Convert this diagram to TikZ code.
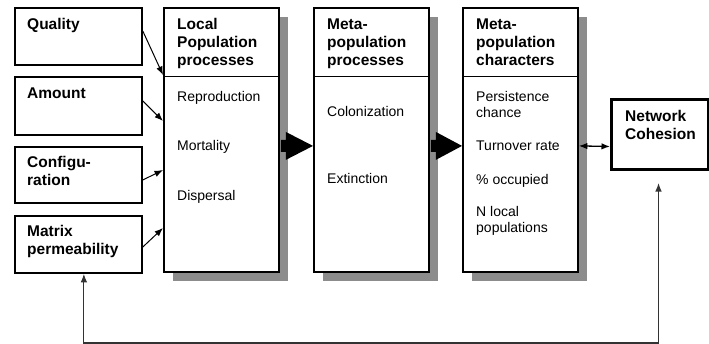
\documentclass[tikz,border=0pt]{standalone}
\usepackage{fontspec}
\setmainfont{Liberation Sans}
\usetikzlibrary{calc,arrows.meta}
\newcommand\mystack[1]{\begin{tabular}[t]{@{}l@{}}#1\end{tabular}}
\definecolor{shadowc}{HTML}{8C8C8C}
\begin{document}
\begin{tikzpicture}[x=1pt,y=-1pt,
  box/.style={draw=black,line width=1.8pt,fill=white,inner sep=0pt,anchor=north west},
  thickbox/.style={draw=black,line width=3pt,fill=white,inner sep=0pt,anchor=north west},
  title/.style={font=\fontsize{15.5}{18}\selectfont\bfseries,anchor=base west,inner sep=0pt},
  item/.style={font=\fontsize{14}{16}\selectfont,anchor=base west,inner sep=0pt},
  tip/.tip={Latex[length=8.5pt,width=6.5pt]},
  arr/.style={line width=1pt,-tip},
  dblarr/.style={line width=1.3pt,tip-tip},
  fbarr/.style={line width=1.1pt,color=black!80,tip-tip},
  bigarr/.style={fill=black}]
\useasboundingbox (0,0) rectangle (709,343);
% shadows
\fill[shadowc] (173,17) rectangle (288,281);
\fill[shadowc] (323,17) rectangle (438,281);
\fill[shadowc] (472,17) rectangle (587,281);
% left boxes
\node[box,minimum width=127pt,minimum height=57pt] (q) at (14,7) {};
\node[box,minimum width=127pt,minimum height=58pt] (a) at (14,76) {};
\node[box,minimum width=127pt,minimum height=56pt] (c) at (14,146) {};
\node[box,minimum width=127pt,minimum height=57pt] (m) at (14,215) {};
% process boxes
\node[box,minimum width=115pt,minimum height=264pt] (lp) at (163,7) {};
\node[box,minimum width=115pt,minimum height=264pt] (mp) at (313,7) {};
\node[box,minimum width=115pt,minimum height=264pt] (mc) at (462,7) {};
\draw[line width=0.8pt] ($(lp.north west)+(0,69)$) -- ($(lp.north east)+(0,69)$);
\draw[line width=0.8pt] ($(mp.north west)+(0,69)$) -- ($(mp.north east)+(0,69)$);
\draw[line width=0.8pt] ($(mc.north west)+(0,69)$) -- ($(mc.north east)+(0,69)$);
% network cohesion
\node[thickbox,minimum width=97pt,minimum height=70pt] (nc) at (610,98) {};
% texts
\node[title] (tq) at (27,29.3) {Quality};
\node[title] (ta) at (27,98.3) {Amount};
\node[title] (tc) at (27,167.7) {\mystack{Configu-\\ration}};
\node[title] (tm) at (27,236) {\mystack{Matrix\\permeability}};
\node[title] (tlp) at (177,29.3) {\mystack{Local\\Population\\processes}};
\node[item] (i1) at (177,101) {Reproduction};
\node[item] (i2) at (177,150.5) {Mortality};
\node[item] (i3) at (177,200) {Dispersal};
\node[title] (tmp) at (327,29.3) {\mystack{Meta-\\population\\processes}};
\node[item] (i4) at (327,116.7) {Colonization};
\node[item] (i5) at (327,183.3) {Extinction};
\node[title] (tmc) at (476,29.3) {\mystack{Meta-\\population\\characters}};
\node[item] (i6) at (476,101) {\mystack{Persistence\\chance}};
\node[item] (i7) at (476,150.7) {Turnover rate};
\node[item] (i8) at (476,184) {\% occupied};
\node[item] (i9) at (476,216.7) {\mystack{N local\\populations}};
\node[title] (tnc) at (625,121.7) {\mystack{Network\\Cohesion}};
% small arrows
\draw[arr] ($(q.north east)+(0,24)$) -- ($(lp.north west)+(0,68)$);
\draw[arr] ($(a.north east)+(0,25)$) -- ($(lp.north west)+(0,114)$);
\draw[arr] ($(c.north east)+(0,34)$) -- ($(lp.north west)+(0,163)$);
\draw[arr] ($(m.north east)+(0,32)$) -- ($(lp.north west)+(0,221)$);
% big arrows
\coordinate (b1) at ($(lp.east)+(1,6)$);
\fill[bigarr] ($(b1)+(0,-6)$) -- ($(b1)+(5,-6)$) -- ($(b1)+(5,-14)$) -- ($(mp.west)+(0,6)$)
  -- ($(b1)+(5,14)$) -- ($(b1)+(5,6)$) -- ($(b1)+(0,6)$) -- cycle;
\coordinate (b2) at ($(mp.east)+(1,6)$);
\fill[bigarr] ($(b2)+(0,-6)$) -- ($(b2)+(5,-6)$) -- ($(b2)+(5,-14)$) -- ($(mc.west)+(0,6)$)
  -- ($(b2)+(5,14)$) -- ($(b2)+(5,6)$) -- ($(b2)+(0,6)$) -- cycle;
% double arrow
\draw[dblarr] ($(mc.east)+(0,6)$) -- ($(nc.west)+(0,12)$);
% feedback
\coordinate (fb) at ($(nc.south)+(-1.5,12)$);
\draw[fbarr] (fb) -- ++(0,160) -| ($(m.south)+(5.5,0)$);
\end{tikzpicture}
\end{document}
